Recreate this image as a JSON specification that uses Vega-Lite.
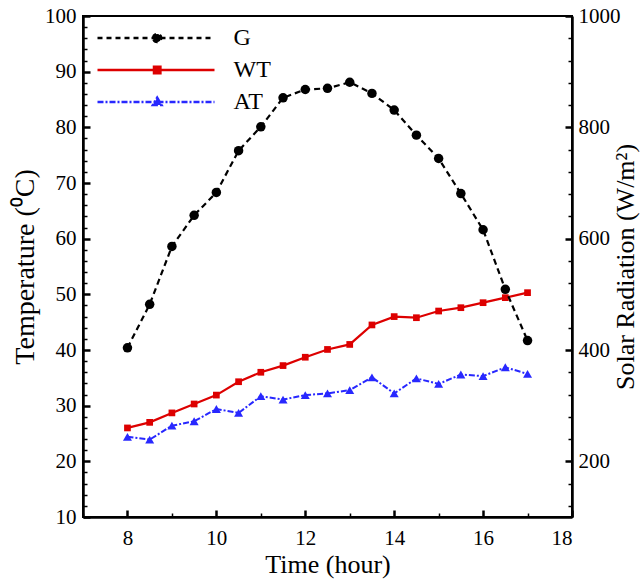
{
  "$schema": "https://vega.github.io/schema/vega-lite/v6.json",
  "width": 489,
  "height": 501,
  "autosize": "none",
  "padding": {"left": 83, "top": 16, "right": 72, "bottom": 62},
  "background": "white",
  "config": {
    "font": "Liberation Serif",
    "view": {"stroke": "black", "strokeWidth": 2},
    "axis": {
      "grid": false,
      "ticks": true,
      "zindex": 1,
      "domainColor": "black",
      "domainWidth": 2.5,
      "tickColor": "black",
      "labelColor": "black",
      "labelFont": "Liberation Serif",
      "labelFontSize": 21,
      "titleColor": "black",
      "titleFont": "Liberation Serif",
      "titleFontSize": 26,
      "titleFontWeight": "normal"
    },
    "legend": {
      "orient": "none",
      "legendX": 7.5,
      "legendY": 10,
      "padding": 0,
      "labelFont": "Liberation Serif",
      "labelFontSize": 24,
      "labelColor": "black",
      "symbolSize": 100,
      "symbolStrokeWidth": 2.5,
      "symbolOpacity": 1,
      "labelOffset": 119,
      "rowPadding": 8
    }
  },
  "data": {
    "values": [
      {"time": 8, "G": 404, "WT": 26.0, "AT": 24.4},
      {"time": 8.5, "G": 482, "WT": 27.0, "AT": 23.9},
      {"time": 9, "G": 586, "WT": 28.7, "AT": 26.4},
      {"time": 9.5, "G": 642, "WT": 30.3, "AT": 27.2},
      {"time": 10, "G": 683, "WT": 31.9, "AT": 29.4},
      {"time": 10.5, "G": 758, "WT": 34.3, "AT": 28.7},
      {"time": 11, "G": 801, "WT": 36.0, "AT": 31.7},
      {"time": 11.5, "G": 853, "WT": 37.2, "AT": 31.1},
      {"time": 12, "G": 868, "WT": 38.7, "AT": 31.9},
      {"time": 12.5, "G": 870, "WT": 40.1, "AT": 32.2},
      {"time": 13, "G": 881, "WT": 41.0, "AT": 32.8},
      {"time": 13.5, "G": 861, "WT": 44.5, "AT": 35.1},
      {"time": 14, "G": 831, "WT": 46.0, "AT": 32.2},
      {"time": 14.5, "G": 786, "WT": 45.8, "AT": 34.9},
      {"time": 15, "G": 744, "WT": 47.0, "AT": 33.9},
      {"time": 15.5, "G": 681, "WT": 47.6, "AT": 35.6},
      {"time": 16, "G": 616, "WT": 48.5, "AT": 35.3},
      {"time": 16.5, "G": 509, "WT": 49.4, "AT": 36.9},
      {"time": 17, "G": 417, "WT": 50.3, "AT": 35.7}
    ]
  },
  "encoding": {
    "x": {
      "field": "time",
      "type": "quantitative",
      "scale": {"domain": [7, 18], "nice": false},
      "axis": {
        "title": "Time (hour)",
        "format": "d",
        "values": [7, 7.5, 8, 8.5, 9, 9.5, 10, 10.5, 11, 11.5, 12, 12.5, 13, 13.5, 14, 14.5, 15, 15.5, 16, 16.5, 17, 17.5, 18],
        "labelExpr": "datum.value % 2 === 0 ? datum.label : ''",
        "tickSize": {"condition": {"test": "datum.value % 2 === 0", "value": -7}, "value": -4},
        "tickWidth": {"condition": {"test": "datum.value % 2 === 0", "value": 2.5}, "value": 1.5},
        "labelPadding": 17,
        "titlePadding": 3
      }
    }
  },
  "layer": [
    {
      "layer": [
        {
          "mark": {
            "type": "line",
            "color": "#dd0000",
            "strokeWidth": 2.2,
            "point": {"filled": true, "shape": "square", "size": 45, "color": "#dd0000"}
          },
          "encoding": {
            "y": {
              "field": "WT",
              "type": "quantitative",
              "scale": {"domain": [10, 100], "nice": false},
              "axis": {
                "title": "Temperature (⁰C)",
                "titleFontSize": 28,
                "orient": "left",
                "values": [10, 12, 14, 16, 18, 20, 22, 24, 26, 28, 30, 32, 34, 36, 38, 40, 42, 44, 46, 48, 50, 52, 54, 56, 58, 60, 62, 64, 66, 68, 70, 72, 74, 76, 78, 80, 82, 84, 86, 88, 90, 92, 94, 96, 98, 100],
                "labelExpr": "datum.value % 10 === 0 ? datum.label : ''",
                "tickSize": {"condition": {"test": "datum.value % 10 === 0", "value": -7}, "value": -4},
                "tickWidth": {"condition": {"test": "datum.value % 10 === 0", "value": 2.5}, "value": 1.5},
                "labelPadding": 14,
                "titlePadding": 5
              }
            }
          }
        },
        {
          "mark": {
            "type": "line",
            "color": "#2828ff",
            "strokeWidth": 2,
            "strokeDash": [6, 2, 2, 2],
            "point": {"filled": true, "shape": "triangle-up", "size": 81, "color": "#2828ff"}
          },
          "encoding": {
            "y": {
              "field": "AT",
              "type": "quantitative",
              "scale": {"domain": [10, 100], "nice": false},
              "axis": {
                "title": "Temperature (⁰C)",
                "titleFontSize": 28,
                "orient": "left",
                "values": [10, 12, 14, 16, 18, 20, 22, 24, 26, 28, 30, 32, 34, 36, 38, 40, 42, 44, 46, 48, 50, 52, 54, 56, 58, 60, 62, 64, 66, 68, 70, 72, 74, 76, 78, 80, 82, 84, 86, 88, 90, 92, 94, 96, 98, 100],
                "labelExpr": "datum.value % 10 === 0 ? datum.label : ''",
                "tickSize": {"condition": {"test": "datum.value % 10 === 0", "value": -7}, "value": -4},
                "tickWidth": {"condition": {"test": "datum.value % 10 === 0", "value": 2.5}, "value": 1.5},
                "labelPadding": 14,
                "titlePadding": 5
              }
            }
          }
        }
      ]
    },
    {
      "mark": {
        "type": "line",
        "color": "black",
        "strokeWidth": 2.2,
        "strokeDash": [6, 4],
        "point": {"filled": true, "shape": "circle", "size": 90, "color": "black"}
      },
      "encoding": {
        "y": {
          "field": "G",
          "type": "quantitative",
          "scale": {"domain": [100, 1000], "nice": false},
          "axis": {
            "title": "Solar Radiation (W/m²)",
            "orient": "right",
            "format": "d",
            "values": [120, 160, 200, 240, 280, 320, 360, 400, 440, 480, 520, 560, 600, 640, 680, 720, 760, 800, 840, 880, 920, 960, 1000],
            "labelExpr": "datum.value % 200 === 0 ? datum.label : ''",
            "tickSize": {"condition": {"test": "datum.value % 200 === 0", "value": -7}, "value": -4},
            "tickWidth": {"condition": {"test": "datum.value % 200 === 0", "value": 2.5}, "value": 1.5},
            "labelPadding": 13,
            "titlePadding": 18,
            "titleAngle": 270
          }
        }
      }
    },
    {
      "transform": [{"fold": ["G", "WT", "AT"], "as": ["series", "val"]}],
      "mark": {"type": "point", "filled": true, "opacity": 0, "strokeWidth": 2.5},
      "encoding": {
        "fill": {
          "field": "series",
          "type": "nominal",
          "scale": {"domain": ["G", "WT", "AT"], "range": ["black", "#dd0000", "#2828ff"]},
          "legend": {"title": null}
        },
        "stroke": {
          "field": "series",
          "type": "nominal",
          "scale": {"domain": ["G", "WT", "AT"], "range": ["black", "#dd0000", "#2828ff"]},
          "legend": {"title": null}
        },
        "shape": {
          "field": "series",
          "type": "nominal",
          "scale": {
            "domain": ["G", "WT", "AT"],
            "range": [
              "M-1,0H22.4M10.14,0A0.8,0.8,0,1,1,11.74,0A0.8,0.8,0,1,1,10.14,0Z",
              "M-1,0H22.4M10.3,-0.64H11.58V0.64H10.3Z",
              "M-1,0H22.4M10.94,-0.85L11.8,0.6H10.08Z"
            ]
          },
          "legend": {"title": null}
        },
        "strokeDash": {
          "field": "series",
          "type": "nominal",
          "scale": {"domain": ["G", "WT", "AT"], "range": [[5, 4], [1, 0], [6, 2, 2, 2]]},
          "legend": {"title": null}
        }
      }
    }
  ],
  "resolve": {"scale": {"y": "independent"}}
}
